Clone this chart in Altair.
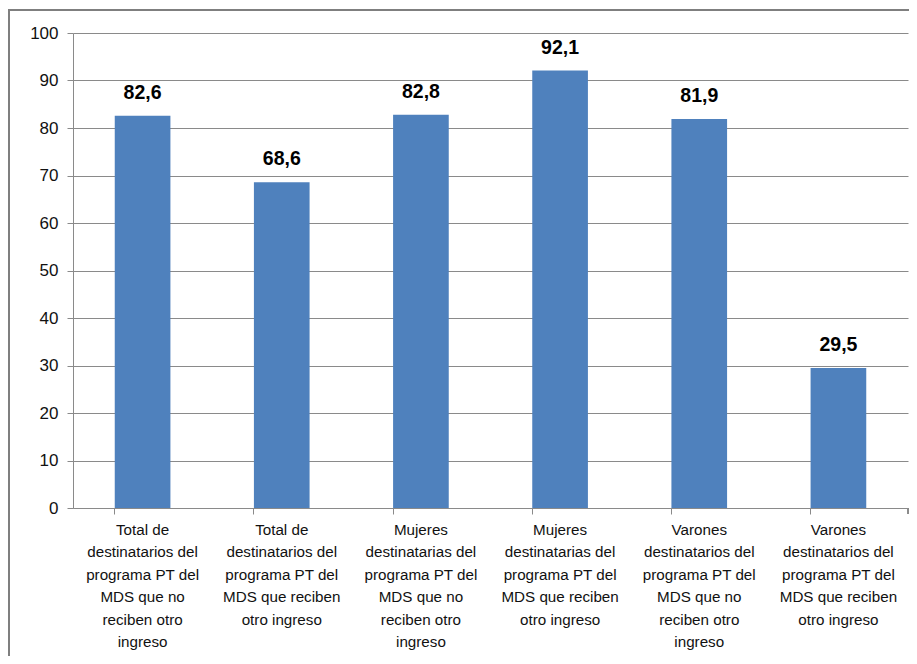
import altair as alt
import pandas as pd

categories = [
    "Total de|destinatarios del|programa PT del|MDS que no|reciben otro|ingreso",
    "Total de|destinatarios del|programa PT del|MDS que reciben|otro ingreso",
    "Mujeres|destinatarias del|programa PT del|MDS que no|reciben otro|ingreso",
    "Mujeres|destinatarias del|programa PT del|MDS que reciben|otro ingreso",
    "Varones|destinatarios del|programa PT del|MDS que no|reciben otro|ingreso",
    "Varones|destinatarios del|programa PT del|MDS que reciben|otro ingreso",
]
values = [82.6, 68.6, 82.8, 92.1, 81.9, 29.5]
y_ticks = [0, 10, 20, 30, 40, 50, 60, 70, 80, 90, 100]

df = pd.DataFrame({"cat": categories, "value": values})

FONT = "Liberation Sans"
GRID = "#8a8a8a"

x = alt.X(
    "cat:N",
    sort=categories,
    scale=alt.Scale(paddingInner=0.6, paddingOuter=0.3),
    axis=alt.Axis(
        title=None,
        labelAngle=0,
        labelExpr="split(datum.label, '|')",
        labelFont=FONT,
        labelFontSize=15.2,
        labelColor="#111111",
        labelLineHeight=22.5,
        labelBaseline="top",
        labelPadding=8,
        labelLimit=200,
        bandPosition=0,
        tickSize=6,
        tickColor=GRID,
        domainColor=GRID,
        grid=False,
    ),
)
y = alt.Y(
    "value:Q",
    scale=alt.Scale(domain=[0, 100], nice=False),
    axis=alt.Axis(
        title=None,
        values=y_ticks,
        labelFont=FONT,
        labelFontSize=17,
        labelColor="#111111",
        labelPadding=9,
        tickSize=6,
        tickColor=GRID,
        domainColor=GRID,
        gridColor=GRID,
        gridWidth=1,
    ),
)

base = alt.Chart(df)

bars = base.mark_bar(color="#4F81BD").encode(x=x, y=y)

labels = base.transform_calculate(
    label="replace(format(datum.value, '.1f'), '.', ',')"
).mark_text(
    font=FONT, fontSize=19.5, fontWeight="bold", color="#000000",
    baseline="bottom", dy=-13
).encode(x=x, y=y, text="label:N")

end_tick = base.mark_rule(color=GRID).encode(
    x=alt.value(835), y=alt.value(475), y2=alt.value(481)
)

border = base.mark_rect(fill=None, stroke="#7f7f7f", strokeWidth=2).encode(
    x=alt.value(-64), x2=alt.value(900), y=alt.value(-23), y2=alt.value(660)
)

chart = alt.layer(border, bars, labels, end_tick).properties(
    width=835, height=475,
    autosize=alt.AutoSizeParams(type="none"),
    padding={"left": 65, "top": 25, "right": 1, "bottom": 148},
).configure_view(stroke=None)

chart.save("out.html", embed_options={"renderer": "svg", "actions": False})
